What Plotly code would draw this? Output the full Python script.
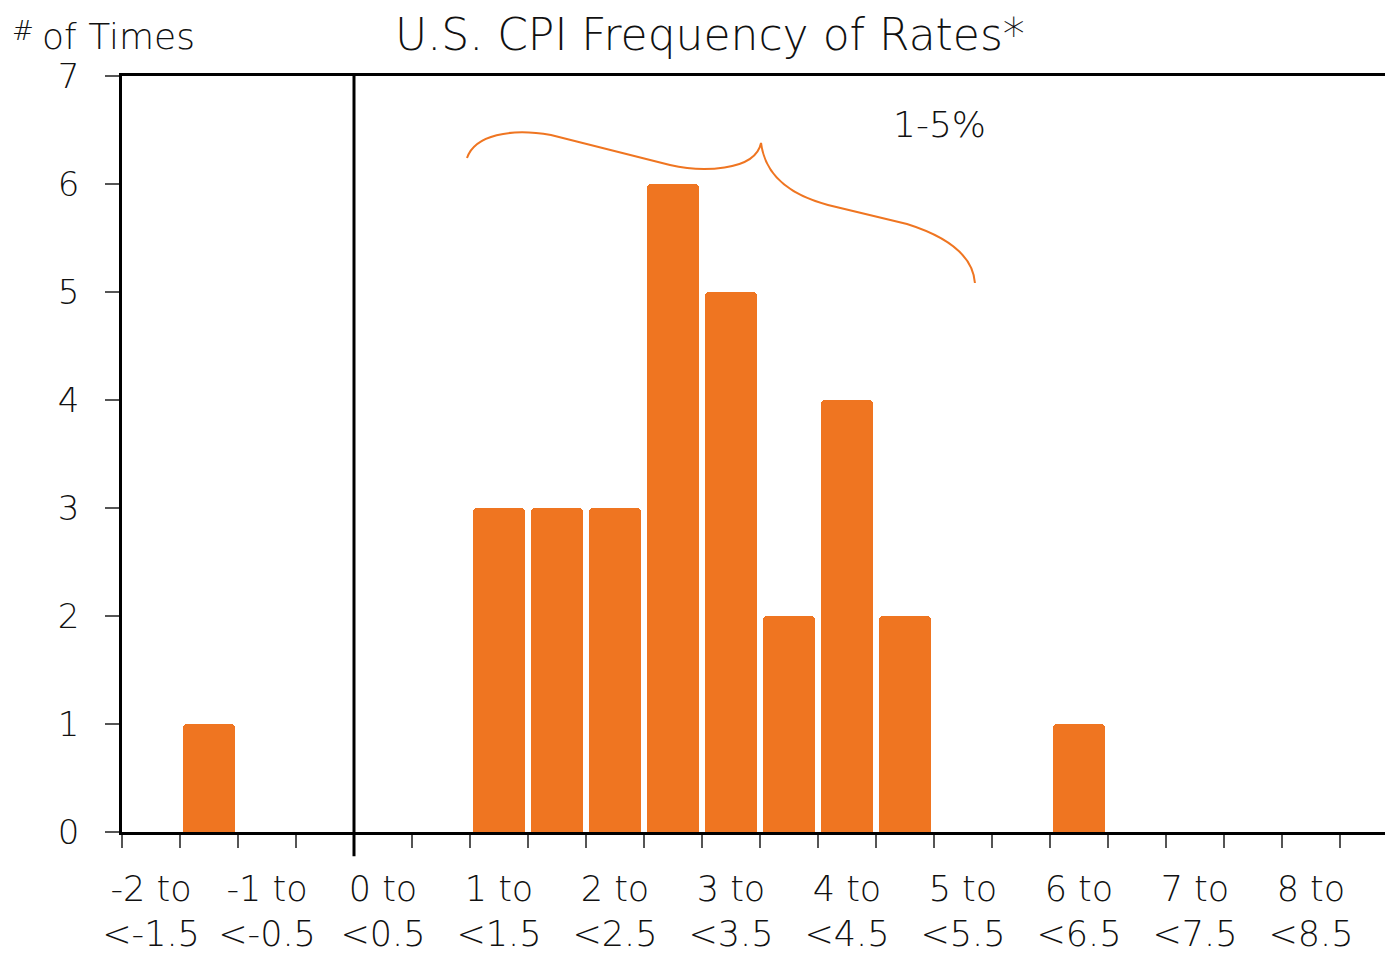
import plotly.graph_objects as go

# Bin lower bounds (0.5-wide bins) and counts
bin_lower = [-2.0, -1.5, -1.0, -0.5, 0.0, 0.5, 1.0, 1.5, 2.0, 2.5, 3.0,
             3.5, 4.0, 4.5, 5.0, 5.5, 6.0, 6.5, 7.0, 7.5, 8.0]
counts = [0, 1, 0, 0, 0, 0, 3, 3, 3, 6, 5, 2, 4, 2, 0, 0, 1, 0, 0, 0, 0]

# Labelled categories (every integer-starting bin)
label_lower = [-2, -1, 0, 1, 2, 3, 4, 5, 6, 7, 8]
label_text = ["-2 to<br><-1.5", "-1 to<br><-0.5", "0 to<br><0.5", "1 to<br><1.5",
              "2 to<br><2.5", "3 to<br><3.5", "4 to<br><4.5", "5 to<br><5.5",
              "6 to<br><6.5", "7 to<br><7.5", "8 to<br><8.5"]

BIN = 0.5
X_RANGE = [-2.0, 8.888]
Y_RANGE = [0, 7]
ORANGE = "#EF7521"
FONT = "DejaVu Sans"
WEIGHT = 200
TXT = "#111111"

centers = [b + BIN / 2 for b in bin_lower]

fig = go.Figure()
fig.add_trace(go.Bar(
    x=centers, y=counts, width=BIN * 0.9,
    marker=dict(color=ORANGE, line=dict(width=0), cornerradius=4),
    hoverinfo="skip",
))

# zero line (extends below axis)
zx = (0 - X_RANGE[0]) / (X_RANGE[1] - X_RANGE[0])
fig.add_shape(type="line", xref="paper", yref="paper", x0=zx, x1=zx, y0=-0.032, y1=1,
              line=dict(color="black", width=3), layer="above")

# curly brace marking the 1-5% range
fig.add_shape(type="path", xref="x", yref="y",
              path="M 0.974,6.241 C 1.043,6.454 1.345,6.519 1.698,6.454 L 2.724,6.176 "
                   "C 2.983,6.111 3.457,6.111 3.509,6.380 C 3.543,6.083 3.759,5.898 4.086,5.806 "
                   "L 4.767,5.630 C 5.095,5.519 5.336,5.343 5.353,5.083",
              line=dict(color=ORANGE, width=2))

fig.add_annotation(x=5.05, y=6.55, xref="x", yref="y", text="1-5%", showarrow=False,
                   font=dict(family=FONT, size=36, color=TXT, weight=WEIGHT))

# y-axis title: small raised "#" then "of Times"
fig.add_annotation(x=-0.089, y=1.06, xref="paper", yref="paper", xanchor="left", yanchor="middle",
                   text="#", showarrow=False,
                   font=dict(family=FONT, size=26, color=TXT, weight=WEIGHT))
fig.add_annotation(x=-0.065, y=1.052, xref="paper", yref="paper", xanchor="left", yanchor="middle",
                   text="of Times", showarrow=False,
                   font=dict(family=FONT, size=36, color=TXT, weight=WEIGHT))

fig.update_layout(
    width=1385, height=956,
    margin=dict(l=122, r=0, t=76, b=124),
    paper_bgcolor="white", plot_bgcolor="white",
    showlegend=False, bargap=0,
    title=dict(text="U.S. CPI Frequency of Rates*", x=0.5126, xanchor="center",
               y=0.964, yanchor="middle",
               font=dict(family=FONT, size=44, color=TXT, weight=WEIGHT)),
    font=dict(family=FONT, color=TXT, weight=WEIGHT),
)

fig.update_xaxes(
    range=X_RANGE, showgrid=False, zeroline=False,
    showline=True, linecolor="black", linewidth=2.5, mirror=True,
    tickmode="array", tickvals=[v + BIN / 2 for v in label_lower], ticktext=label_text,
    ticks="", tickfont=dict(family=FONT, size=35, color=TXT, weight=WEIGHT), ticklabelstandoff=24,
    minor=dict(tickmode="linear", tick0=-2, dtick=BIN, ticks="outside", ticklen=13,
               tickcolor="#555", tickwidth=1.5, showgrid=False),
)
fig.update_yaxes(
    range=Y_RANGE, showgrid=False, zeroline=False,
    showline=True, linecolor="black", linewidth=2.5,
    tickmode="linear", tick0=0, dtick=1,
    ticks="outside", ticklen=14, tickcolor="#555", tickwidth=1.5,
    tickfont=dict(family=FONT, size=34, color=TXT, weight=WEIGHT), ticklabelstandoff=19,
)

fig.write_html("out.html", config={"displayModeBar": False},
               post_script="document.body.style.margin='0';document.body.style.overflow='hidden';")
